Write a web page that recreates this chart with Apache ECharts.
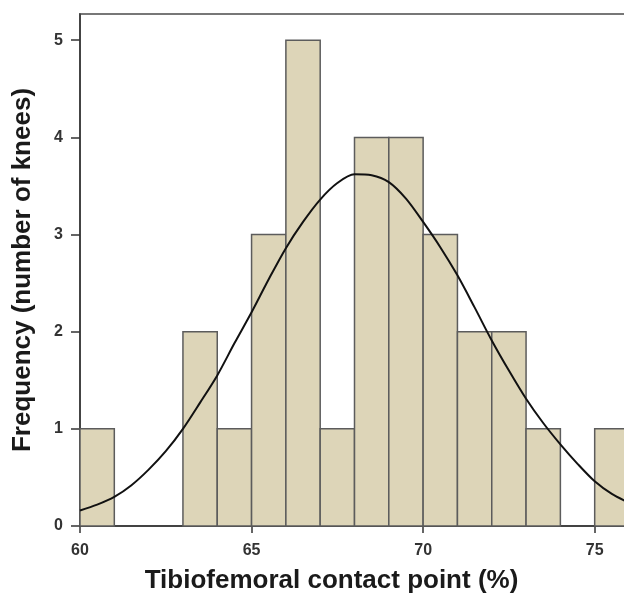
<!DOCTYPE html>
<html>
<head>
<meta charset="utf-8">
<script src="https://cdn.jsdelivr.net/npm/echarts@6/dist/echarts.min.js"></script>
<style>
  html, body { margin: 0; padding: 0; background: #ffffff; }
  #chart { width: 624px; height: 595px; }
</style>
</head>
<body>
<div id="chart"></div>
<script>
// Histogram bins (tibiofemoral contact point, %)
const binStarts = [60, 61, 62, 63, 64, 65, 66, 67, 68, 69, 70, 71, 72, 73, 74, 75];
const binEnds   = [61, 62, 63, 64, 65, 66, 67, 68, 69, 70, 71, 72, 73, 74, 75, 76];
const frequencies = [1, 0, 0, 2, 1, 3, 5, 1, 4, 4, 3, 2, 2, 1, 0, 1];

// Fitted curve
const curveX = [60, 60.5, 61, 61.5, 62, 62.5, 63, 63.5, 64, 64.5, 65, 65.5, 66, 66.5, 67, 67.5, 68, 68.5, 69, 69.5, 70, 70.5, 71, 71.5, 72, 72.5, 73, 73.5, 74, 74.5, 75, 75.5, 76];
const curveY = [0.16, 0.22, 0.30, 0.42, 0.58, 0.77, 1.00, 1.27, 1.55, 1.88, 2.20, 2.54, 2.86, 3.13, 3.36, 3.53, 3.62, 3.61, 3.54, 3.37, 3.13, 2.87, 2.58, 2.25, 1.91, 1.60, 1.31, 1.06, 0.84, 0.64, 0.46, 0.33, 0.24];

const xTicks = [60, 65, 70, 75];
const yTicks = [0, 1, 2, 3, 4, 5];

const histData = binStarts.map((s, i) => [s, binEnds[i], frequencies[i]]).filter(d => d[2] > 0);
const curveData = curveX.map((x, i) => [x, curveY[i]]);

const chart = echarts.init(document.getElementById('chart'), null, { renderer: 'canvas' });
const labelFont = { fontFamily: 'Liberation Sans, Arial, sans-serif', fontSize: 16, fontWeight: 'bold', color: '#333' };
const titleFont = { fontFamily: 'Liberation Sans, Arial, sans-serif', fontSize: 26, fontWeight: 'bold', color: '#1a1a1a' };

chart.setOption({
  animation: false,
  backgroundColor: '#ffffff',
  grid: {
    left: 80, top: 14, width: 549, bottom: 69,
    outerBoundsMode: 'none', containLabel: false,
    show: true, borderColor: '#777', borderWidth: 2, backgroundColor: 'transparent'
  },
  xAxis: {
    type: 'value', min: 60, max: 76, interval: 5,
    name: 'Tibiofemoral contact point (%)', nameLocation: 'middle', nameGap: 42,
    nameTextStyle: Object.assign({ padding: [0, 46, 0, 0] }, titleFont),
    axisLine: { show: true, onZero: false, lineStyle: { color: '#333', width: 1.5 } },
    axisTick: { show: true, length: 7, customValues: xTicks, lineStyle: { color: '#333', width: 1.5 } },
    axisLabel: Object.assign({ margin: 17, customValues: xTicks }, labelFont),
    splitLine: { show: false }
  },
  yAxis: {
    type: 'value', min: 0, max: 5.27, interval: 1,
    name: 'Frequency (number of knees)', nameLocation: 'middle', nameGap: 44,
    nameTextStyle: titleFont,
    axisLine: { show: true, onZero: false, lineStyle: { color: '#333', width: 1.5 } },
    axisTick: { show: true, length: 9, customValues: yTicks, lineStyle: { color: '#333', width: 1.5 } },
    axisLabel: Object.assign({ margin: 17, customValues: yTicks }, labelFont),
    splitLine: { show: false }
  },
  series: [
    {
      type: 'custom',
      data: histData,
      encode: { x: [0, 1], y: 2 },
      z: 2,
      renderItem: function (params, api) {
        const p0 = api.coord([api.value(0), api.value(2)]);
        const p1 = api.coord([api.value(1), 0]);
        return {
          type: 'rect',
          shape: { x: p0[0], y: p0[1], width: p1[0] - p0[0], height: p1[1] - p0[1] },
          style: { fill: '#ddd5b8', stroke: '#5c5c5c', lineWidth: 1.5 }
        };
      }
    },
    {
      type: 'line',
      data: curveData,
      smooth: 0.3,
      showSymbol: false,
      z: 3,
      lineStyle: { color: '#111', width: 2 }
    }
  ]
});
</script>
</body>
</html>
